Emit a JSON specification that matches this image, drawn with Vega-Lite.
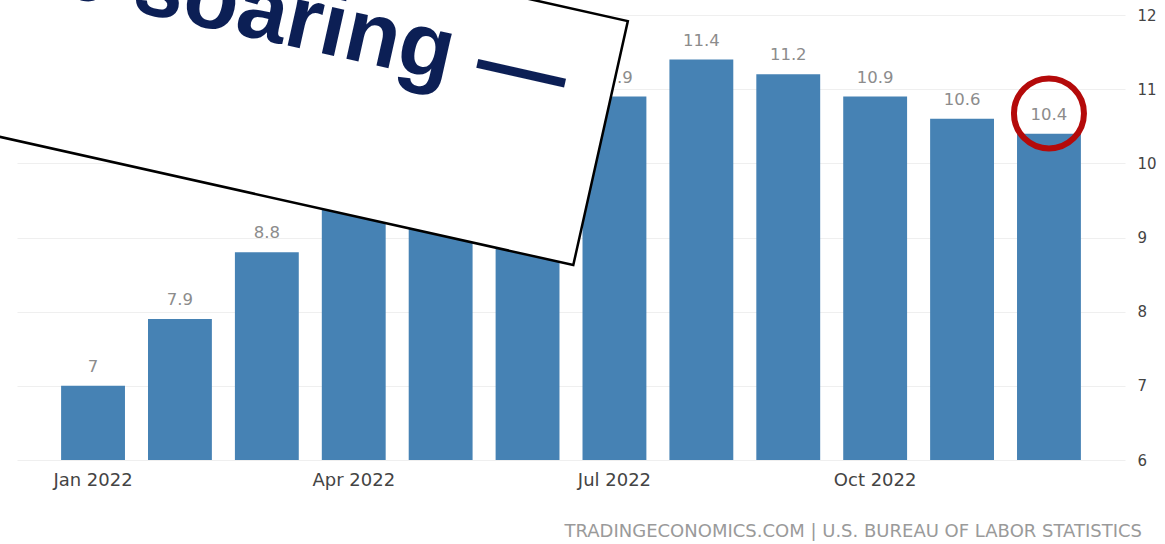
{
  "$schema": "https://vega.github.io/schema/vega-lite/v6.json",
  "autosize": {"type": "none"},
  "padding": {"left": 17, "top": 15, "right": 40, "bottom": 84},
  "width": 1108,
  "height": 445,
  "background": "white",
  "config": {"view": {"stroke": null}},
  "title": {
    "text": "TRADINGECONOMICS.COM | U.S. BUREAU OF LABOR STATISTICS",
    "orient": "bottom",
    "anchor": "end",
    "frame": "group",
    "font": "DejaVu Sans",
    "fontSize": 18,
    "fontWeight": "normal",
    "color": "#9a9a9a",
    "dx": 17,
    "offset": 34
  },
  "data": {
    "values": [
      {"month": "Jan 2022", "value": 7.0},
      {"month": "Feb 2022", "value": 7.9},
      {"month": "Mar 2022", "value": 8.8},
      {"month": "Apr 2022", "value": 9.4},
      {"month": "May 2022", "value": 10.1},
      {"month": "Jun 2022", "value": 10.4},
      {"month": "Jul 2022", "value": 10.9},
      {"month": "Aug 2022", "value": 11.4},
      {"month": "Sep 2022", "value": 11.2},
      {"month": "Oct 2022", "value": 10.9},
      {"month": "Nov 2022", "value": 10.6},
      {"month": "Dec 2022", "value": 10.4}
    ]
  },
  "layer": [
    {
      "mark": {"type": "bar", "color": "#4682B4"},
      "encoding": {
        "x": {
          "field": "month", "type": "nominal", "sort": null,
          "scale": {"paddingInner": 0.265, "paddingOuter": 0.5075},
          "axis": {
            "title": null, "orient": "bottom", "domain": false, "ticks": false, "grid": false,
            "labelAngle": 0, "labelPadding": 11, "labelFont": "DejaVu Sans", "labelFontSize": 18,
            "labelColor": "#444444",
            "values": ["Jan 2022", "Apr 2022", "Jul 2022", "Oct 2022"]
          }
        },
        "y": {
          "field": "value", "type": "quantitative",
          "scale": {"domain": [6, 12], "zero": false, "nice": false},
          "axis": {
            "title": null, "orient": "right", "domain": false, "ticks": false, "grid": true,
            "gridColor": "#efefef", "values": [6, 7, 8, 9, 10, 11, 12], "format": "d",
            "labelPadding": 12, "labelFont": "DejaVu Sans", "labelFontSize": 15, "labelColor": "#444444"
          }
        },
        "y2": {"datum": 6}
      }
    },
    {
      "mark": {"type": "text", "baseline": "alphabetic", "dy": -14, "font": "DejaVu Sans", "fontSize": 16.5, "color": "#8c8c8c"},
      "encoding": {
        "x": {"field": "month", "type": "nominal", "sort": null},
        "y": {"field": "value", "type": "quantitative"},
        "text": {"field": "value", "type": "quantitative"}
      }
    },
    {
      "data": {"values": [{}]},
      "mark": {
        "type": "point",
        "shape": "M-1,-0.29H1V0.29H-1Z",
        "size": 743044,
        "angle": 12.6,
        "filled": true,
        "fill": "white",
        "stroke": "black",
        "strokeWidth": 2.5,
        "opacity": 1,
        "fillOpacity": 1
      },
      "encoding": {
        "x": {"datum": "Feb 2022"},
        "y": {"datum": 11.541}
      }
    },
    {
      "data": {"values": [{}]},
      "mark": {
        "type": "text",
        "text": "Food prices are soaring —",
        "align": "right",
        "baseline": "alphabetic",
        "angle": 12.6,
        "dx": 33,
        "dy": 0,
        "font": "Liberation Sans",
        "fontWeight": "bold",
        "fontSize": 90,
        "color": "#0c1f55"
      },
      "encoding": {
        "x": {"datum": "Jun 2022"},
        "y": {"datum": 10.863}
      }
    },
    {
      "data": {"values": [{}]},
      "mark": {
        "type": "point",
        "shape": "circle",
        "size": 4900,
        "filled": false,
        "stroke": "#b40a0a",
        "strokeWidth": 6,
        "opacity": 1
      },
      "encoding": {
        "x": {"datum": "Dec 2022"},
        "y": {"datum": 10.672}
      }
    }
  ]
}
